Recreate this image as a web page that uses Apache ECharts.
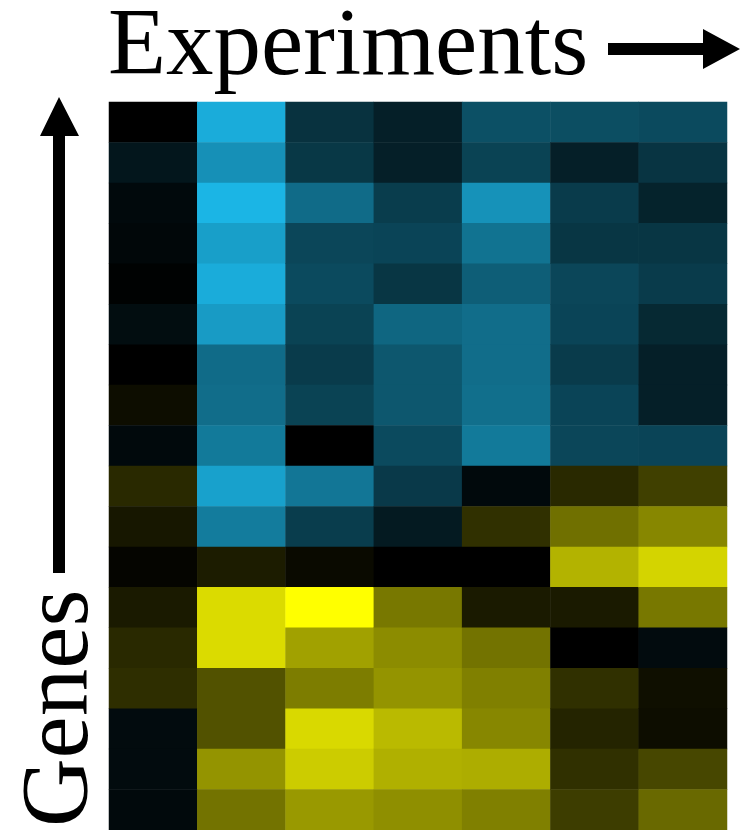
<!DOCTYPE html>
<html>
<head>
<meta charset="utf-8">
<script src="https://cdn.jsdelivr.net/npm/echarts@6/dist/echarts.min.js"></script>
<style>
  html, body { margin: 0; padding: 0; background: #ffffff; }
  #chart { width: 746px; height: 830px; }
</style>
</head>
<body>
<div id="chart"></div>
<script>
// Expression matrix: one array per experiment (column), genes listed top to bottom.
// Negative = repressed (blue), positive = induced (yellow), 0 = black.
const experiments = ['Exp 1', 'Exp 2', 'Exp 3', 'Exp 4', 'Exp 5', 'Exp 6', 'Exp 7'];
const genes = ['G1','G2','G3','G4','G5','G6','G7','G8','G9','G10','G11','G12','G13','G14','G15','G16','G17','G18'];

const exp1 = [0, -0.12, -0.05, -0.04, -0.01, -0.07, 0, 0.05, -0.05, 0.16, 0.09, 0.02, 0.10, 0.16, 0.18, -0.06, -0.06, -0.05];
const exp2 = [-0.93, -0.78, -0.98, -0.86, -0.93, -0.84, -0.58, -0.59, -0.66, -0.87, -0.67, 0.11, 0.86, 0.86, 0.32, 0.32, 0.58, 0.45];
const exp3 = [-0.27, -0.30, -0.58, -0.38, -0.40, -0.36, -0.32, -0.36, 0, -0.64, -0.33, 0.04, 1.0, 0.63, 0.49, 0.85, 0.80, 0.60];
const exp4 = [-0.17, -0.17, -0.33, -0.37, -0.29, -0.55, -0.47, -0.47, -0.40, -0.31, -0.14, 0, 0.47, 0.55, 0.58, 0.73, 0.69, 0.56];
const exp5 = [-0.43, -0.36, -0.79, -0.62, -0.51, -0.59, -0.59, -0.60, -0.66, -0.05, 0.19, 0, 0.10, 0.45, 0.50, 0.53, 0.68, 0.50];
const exp6 = [-0.42, -0.17, -0.32, -0.29, -0.38, -0.37, -0.32, -0.37, -0.38, 0.16, 0.44, 0.70, 0.10, 0, 0.19, 0.14, 0.19, 0.24];
const exp7 = [-0.40, -0.28, -0.19, -0.29, -0.32, -0.22, -0.17, -0.17, -0.37, 0.25, 0.53, 0.83, 0.47, -0.06, 0.06, 0.05, 0.28, 0.41];

const columns = [exp1, exp2, exp3, exp4, exp5, exp6, exp7];
const cells = [];
columns.forEach((col, xi) => {
  col.forEach((v, yi) => cells.push([xi, yi, v]));
});

const chart = echarts.init(document.getElementById('chart'), null, { renderer: 'canvas' });

const serif = '"Liberation Serif", "Times New Roman", serif';

chart.setOption({
  backgroundColor: '#ffffff',
  animation: false,
  grid: { left: 109, right: 19, top: 102, bottom: 0 },
  xAxis: {
    type: 'category',
    data: experiments,
    show: false
  },
  yAxis: {
    type: 'category',
    data: genes,
    inverse: true,
    show: false
  },
  visualMap: {
    show: false,
    type: 'continuous',
    min: -1,
    max: 1,
    dimension: 2,
    inRange: { color: ['#1CB9EA', '#000000', '#FFFF00'] }
  },
  series: [{
    type: 'heatmap',
    data: cells,
    itemStyle: { borderWidth: 0 },
    emphasis: { disabled: true }
  }],
  graphic: [
    // top label and its arrow
    {
      type: 'text',
      x: 108,
      y: 97,
      style: {
        text: 'Experiments',
        font: '95px ' + serif,
        fill: '#000000',
        textAlign: 'left',
        textVerticalAlign: 'bottom'
      }
    },
    {
      type: 'polygon',
      shape: { points: [[608, 43], [703, 43], [703, 29], [740, 49], [703, 69], [703, 55], [608, 55]] },
      style: { fill: '#000000' }
    },
    // side label and its arrow
    {
      type: 'polygon',
      shape: { points: [[53, 573], [53, 136], [40, 136], [59, 97], [79, 136], [65, 136], [65, 573]] },
      style: { fill: '#000000' }
    },
    {
      type: 'text',
      x: 62,
      y: 827,
      rotation: Math.PI / 2,
      style: {
        text: 'Genes',
        font: '95px ' + serif,
        fill: '#000000',
        textAlign: 'left',
        textVerticalAlign: 'middle'
      }
    }
  ]
});
</script>
</body>
</html>
